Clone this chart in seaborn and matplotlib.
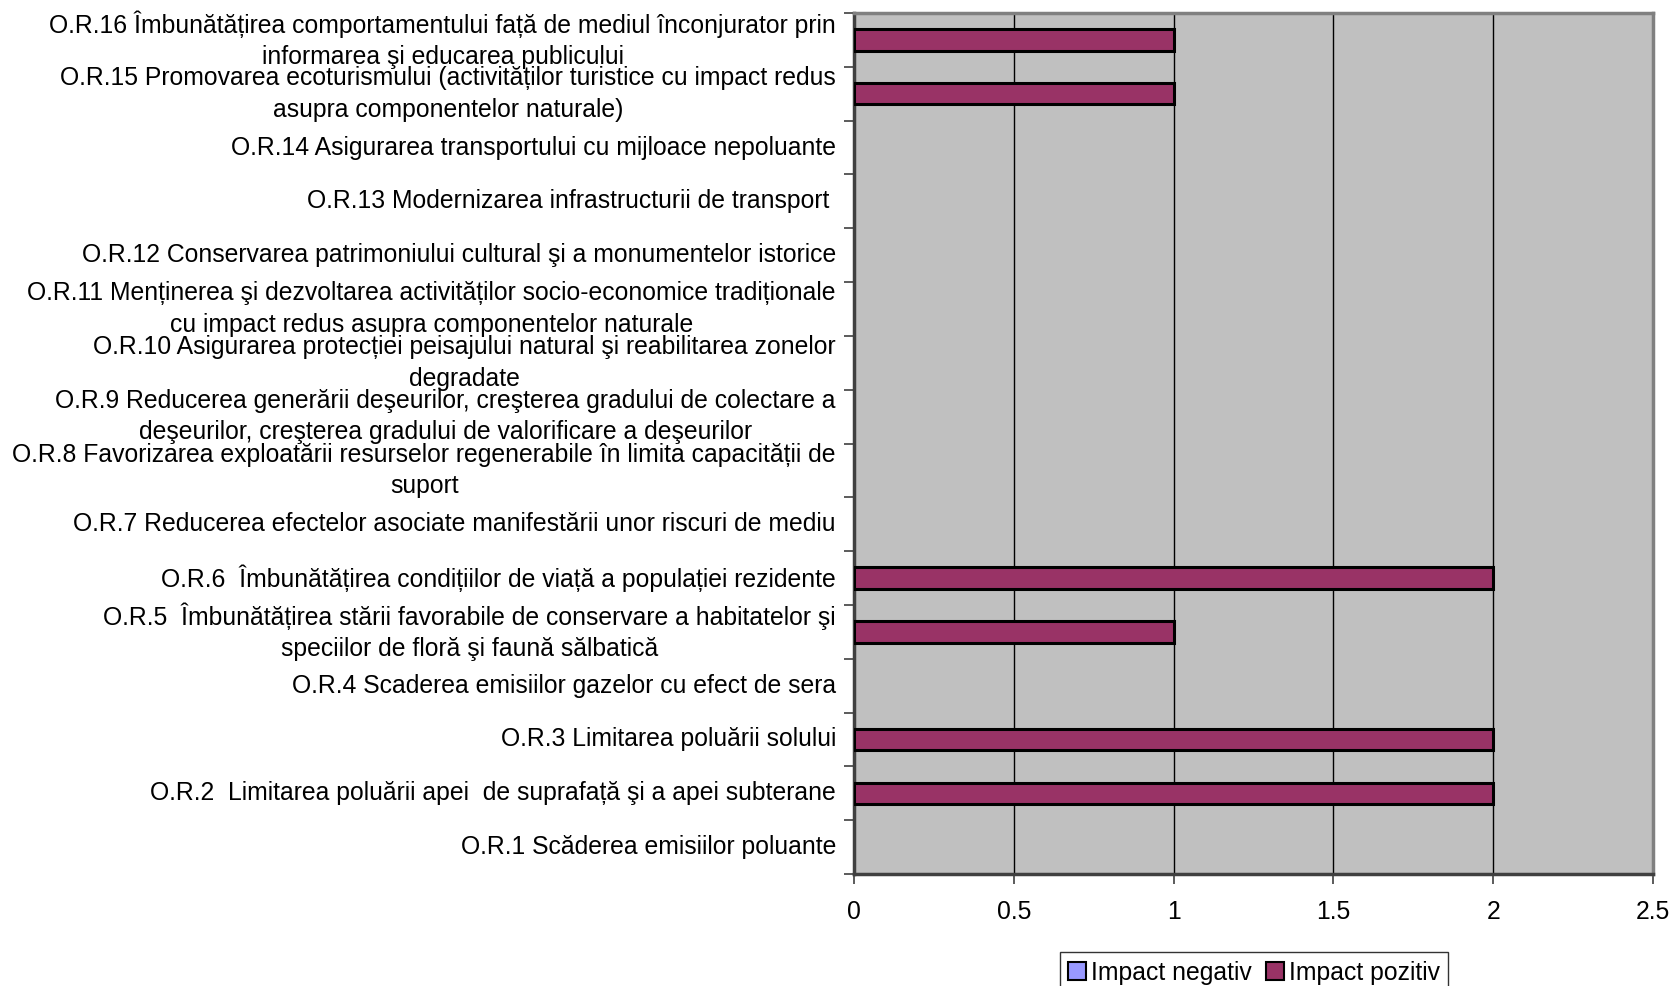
import matplotlib
matplotlib.use("Agg")
import matplotlib.pyplot as plt
import matplotlib.patches as mpatches
import seaborn as sns
import pandas as pd
import numpy as np

# Objectives, bottom (O.R.1) to top (O.R.16)
objectives = [
    "O.R.1 Scăderea emisiilor poluante",
    "O.R.2  Limitarea poluării apei  de suprafață şi a apei subterane",
    "O.R.3 Limitarea poluării solului",
    "O.R.4 Scaderea emisiilor gazelor cu efect de sera",
    "O.R.5  Îmbunătățirea stării favorabile de conservare a habitatelor şi\nspeciilor de floră şi faună sălbatică",
    "O.R.6  Îmbunătățirea condițiilor de viață a populației rezidente",
    "O.R.7 Reducerea efectelor asociate manifestării unor riscuri de mediu",
    "O.R.8 Favorizarea exploatării resurselor regenerabile în limita capacității de\nsuport",
    "O.R.9 Reducerea generării deşeurilor, creşterea gradului de colectare a\ndeşeurilor, creşterea gradului de valorificare a deşeurilor",
    "O.R.10 Asigurarea protecției peisajului natural şi reabilitarea zonelor\ndegradate",
    "O.R.11 Menținerea şi dezvoltarea activităților socio-economice tradiționale\ncu impact redus asupra componentelor naturale",
    "O.R.12 Conservarea patrimoniului cultural şi a monumentelor istorice",
    "O.R.13 Modernizarea infrastructurii de transport ",
    "O.R.14 Asigurarea transportului cu mijloace nepoluante",
    "O.R.15 Promovarea ecoturismului (activităților turistice cu impact redus\nasupra componentelor naturale)",
    "O.R.16 Îmbunătățirea comportamentului față de mediul înconjurator prin\ninformarea şi educarea publicului",
]
impact_negativ = [0, 0, 0, 0, 0, 0, 0, 0, 0, 0, 0, 0, 0, 0, 0, 0]
impact_pozitiv = [0, 2, 2, 0, 1, 2, 0, 0, 0, 0, 0, 0, 0, 0, 1, 1]
series_names = ["Impact negativ", "Impact pozitiv"]
series_colors = ["#9999FF", "#993366"]
x_ticks = [0, 0.5, 1, 1.5, 2, 2.5]

df = pd.DataFrame({
    "objective": objectives * 2,
    "value": impact_negativ + impact_pozitiv,
    "series": [series_names[0]] * len(objectives) + [series_names[1]] * len(objectives),
})

sns.set_theme(style="white")
plt.rcParams["font.family"] = ["Liberation Sans", "DejaVu Sans"]
plt.rcParams["text.color"] = "black"
plt.rcParams["xtick.color"] = "black"
plt.rcParams["ytick.color"] = "black"

FS = 17.8

fig = plt.figure(figsize=(16.72, 9.86), dpi=100)
ax = fig.add_axes([854 / 1672, 1 - 874 / 986, (1653 - 854) / 1672, (874 - 13) / 986])
ax.set_facecolor("#C0C0C0")

order = objectives[::-1]
sns.barplot(data=df, y="objective", x="value", hue="series", order=order,
            hue_order=series_names, palette=series_colors, saturation=1,
            dodge=False, width=0.4, edgecolor="black", linewidth=2.2, ax=ax,
            legend=False, zorder=3)

# empty bars leave no outline at the axis
for bar in ax.patches:
    if bar.get_width() == 0:
        bar.set_linewidth(0)

ax.set_xlim(0, 2.5)
ax.set_ylim(len(objectives) - 0.5, -0.5)
ax.set_xticks(x_ticks)
ax.set_xticklabels([f"{t:g}" for t in x_ticks])
ax.xaxis.grid(True, color="black", linewidth=1.0, zorder=1)
ax.set_axisbelow(True)
ax.set_xlabel("")
ax.set_ylabel("")

# category boundaries carry the tick marks on the value axis
ax.set_yticks(np.arange(len(objectives) + 1) - 0.5, minor=True)
ax.tick_params(axis="y", which="major", length=0, pad=13, labelsize=FS, labelcolor="black")
ax.tick_params(axis="y", which="minor", length=7, width=1.2, color="#404040", left=True)
ax.tick_params(axis="x", which="major", length=7, width=1.2, color="#404040",
               bottom=True, pad=12, labelsize=FS, labelcolor="black")
for lbl in ax.get_yticklabels():
    lbl.set_multialignment("center")
    lbl.set_linespacing(1.4)
    lbl.set_verticalalignment("center")

for side in ["left", "bottom"]:
    ax.spines[side].set_color("#404040")
    ax.spines[side].set_linewidth(2.5)
for side in ["top", "right"]:
    ax.spines[side].set_color("#808080")
    ax.spines[side].set_linewidth(2.5)

handles = [mpatches.Patch(facecolor=c, edgecolor="black", linewidth=1.5, label=n)
           for n, c in zip(series_names, series_colors)]
leg = fig.legend(handles=handles, loc="upper center", bbox_to_anchor=(1254 / 1672, 1 - 952 / 986),
                 ncol=2, frameon=True, fancybox=False, fontsize=FS,
                 handlelength=0.7, handleheight=0.7, handletextpad=0.2,
                 columnspacing=0.6, borderpad=0.35, borderaxespad=0)
leg.get_frame().set_edgecolor("black")
leg.get_frame().set_linewidth(1.0)

fig.savefig("out.png", dpi=100, facecolor="white")
